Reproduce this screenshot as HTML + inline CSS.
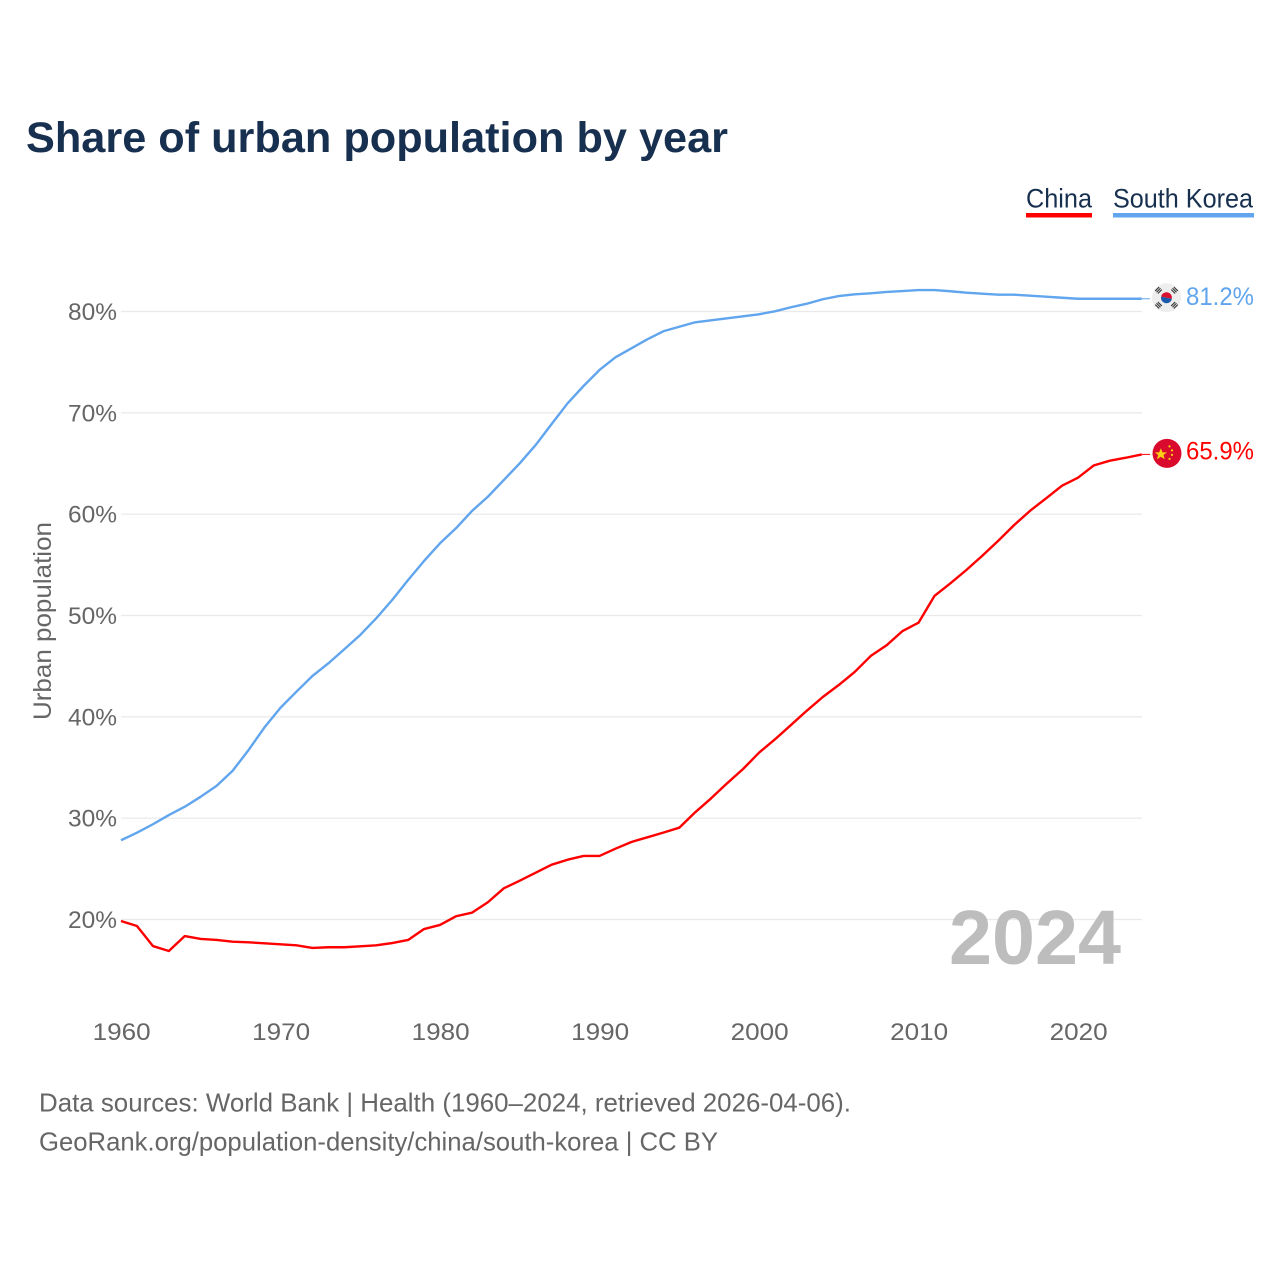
<!DOCTYPE html>
<html lang="en">
<head>
<meta charset="utf-8">
<title>Share of urban population by year</title>
<style>
html,body{margin:0;padding:0;background:#fff;width:1280px;height:1280px;overflow:hidden}
svg{display:block}
text{font-family:"Liberation Sans",sans-serif}
</style>
</head>
<body>
<svg id="chart" xmlns="http://www.w3.org/2000/svg" width="1280" height="1280" viewBox="0 0 1280 1280">
  <rect width="1280" height="1280" fill="#fff"/>
  <text x="26" y="152" font-size="43" font-weight="700" fill="#18304f" textLength="702" lengthAdjust="spacingAndGlyphs">Share of urban population by year</text>
  <g>
    <g>
      <text x="1026" y="207.5" font-size="27" fill="#18304f" textLength="66" lengthAdjust="spacingAndGlyphs">China</text>
      <rect x="1026" y="213" width="66" height="4.5" fill="#ff0000"/>
    </g>
    <g>
      <text x="1113" y="207.5" font-size="27" fill="#18304f" textLength="140" lengthAdjust="spacingAndGlyphs">South Korea</text>
      <rect x="1113" y="213" width="141" height="4.5" fill="#60a5ed"/>
    </g>
  </g>
  <g id="grid"></g>
  <g id="yticks"></g>
  <g id="xticks"></g>
  <text transform="translate(51,720) rotate(-90)" font-size="25" fill="#666" textLength="198" lengthAdjust="spacingAndGlyphs">Urban population</text>
  <text id="year-watermark" x="1121" y="964" text-anchor="end" font-size="77" font-weight="700" fill="#bdbdbd" textLength="172" lengthAdjust="spacingAndGlyphs"></text>
  <g id="series"></g>
  <g id="endpoints"></g>
  <text x="39" y="1111.5" font-size="26" fill="#666" textLength="812" lengthAdjust="spacingAndGlyphs">Data sources: World Bank | Health (1960–2024, retrieved 2026-04-06).</text>
  <text x="39" y="1150.5" font-size="26" fill="#666" textLength="679" lengthAdjust="spacingAndGlyphs">GeoRank.org/population-density/china/south-korea | CC BY</text>
</svg>
<script>
const startYear = 1960;
const chinaValues = [
19.85,19.36,17.38,16.89,18.37,18.08,17.98,17.81,17.75,17.65,
17.55,17.45,17.19,17.26,17.26,17.35,17.45,17.68,17.98,19.06,
19.46,20.32,20.67,21.70,23.08,23.83,24.62,25.41,25.90,26.27,
26.27,26.99,27.65,28.11,28.57,29.06,30.58,31.96,33.44,34.85,
36.46,37.78,39.19,40.61,41.96,43.14,44.43,46.00,47.06,48.47,
49.29,51.93,53.18,54.49,55.90,57.38,58.93,60.34,61.57,62.81,
63.60,64.82,65.28,65.57,65.90];
const koreaValues = [
27.82,28.57,29.40,30.31,31.13,32.12,33.20,34.68,36.73,38.97,
40.90,42.48,44.03,45.28,46.67,48.08,49.72,51.53,53.50,55.38,
57.13,58.61,60.31,61.72,63.37,65.02,66.83,68.90,70.94,72.65,
74.23,75.48,76.37,77.26,78.05,78.50,78.94,79.13,79.33,79.53,
79.73,80.02,80.42,80.77,81.21,81.53,81.70,81.80,81.93,82.02,
82.12,82.12,82.00,81.86,81.76,81.66,81.66,81.56,81.46,81.36,
81.26,81.26,81.26,81.26,81.26];
const yTickValues = [20,30,40,50,60,70,80];
const xTickValues = [1960,1970,1980,1990,2000,2010,2020];

const NS = 'http://www.w3.org/2000/svg';
const xScale = function (year) { return 121 + (year - 1960) * 15.95; };
const yScale = function (v) { return 919.5 - (v - 20) * 10.133; };
function make(tag, parent, attrs) {
  const el = document.createElementNS(NS, tag);
  for (const k in attrs) el.setAttribute(k, attrs[k]);
  parent.appendChild(el);
  return el;
}
const grid = document.getElementById('grid');
const yticks = document.getElementById('yticks');
const xticks = document.getElementById('xticks');
const series = document.getElementById('series');
const endpoints = document.getElementById('endpoints');

yTickValues.forEach(function (v) {
  const line = make('line', grid, {x1: 121, x2: 1142, y1: yScale(v), y2: yScale(v), stroke: '#e9e9e9', 'stroke-width': 1.2});
  
  
  const t = make('text', yticks, {x: 117, y: yScale(v) + 8.5, 'text-anchor': 'end', 'font-size': 24, fill: '#666', textLength: 49, lengthAdjust: 'spacingAndGlyphs'});
  t.textContent = v + '%';
  
  
});
xTickValues.forEach(function (yr) {
  const t = make('text', xticks, {x: xScale(yr) + 0.7, y: 1040, 'text-anchor': 'middle', 'font-size': 24, fill: '#666', textLength: 58, lengthAdjust: 'spacingAndGlyphs'});
  t.textContent = yr;
  
  
});

function pathFor(vals) {
  return vals.map(function (v, i) {
    return (i ? 'L' : 'M') + xScale(startYear + i).toFixed(2) + ' ' + yScale(v).toFixed(2);
  }).join(' ');
}
const koreaLine = make('path', series, {d: pathFor(koreaValues), fill: 'none', stroke: '#60a5ed', 'stroke-width': 2.4, 'stroke-linejoin': 'round'});


const chinaLine = make('path', series, {d: pathFor(chinaValues), fill: 'none', stroke: '#ff0000', 'stroke-width': 2.4, 'stroke-linejoin': 'round'});



const lastYear = startYear + chinaValues.length - 1;
document.getElementById('year-watermark').textContent = lastYear;

/* South Korea end marker */
const krY = yScale(koreaValues[koreaValues.length - 1]);
const krG = make('g', endpoints, {transform: 'translate(0,' + krY + ')'});


make('line', krG, {x1: 1142, x2: 1150, y1: 0, y2: 0, stroke: '#60a5ed', 'stroke-width': 1});
const krFlag = make('g', krG, {transform: 'translate(1166.5,-1)'});


make('circle', krFlag, {cx: 0, cy: 0, r: 14.5, fill: '#eeeeee'});
make('path', krFlag, {d: 'M-5.5 0A5.5 5.5 0 0 1 5.5 0Z', fill: '#d8112f', transform: 'rotate(12)'});
make('path', krFlag, {d: 'M-5.5 0A5.5 5.5 0 0 0 5.5 0Z', fill: '#1a5cab', transform: 'rotate(12)'});
[[-8, -7.5, -45], [8, -7.5, 45], [-8, 7.5, 45], [8, 7.5, -45]].forEach(function (b) {
  const bars = make('g', krFlag, {transform: 'translate(' + b[0] + ',' + b[1] + ') rotate(' + b[2] + ')'});
  make('rect', bars, {x: -2.8, y: -2.4, width: 5.6, height: 1.1, fill: '#333'});
  make('rect', bars, {x: -2.8, y: -0.55, width: 5.6, height: 1.1, fill: '#333'});
  make('rect', bars, {x: -2.8, y: 1.3, width: 5.6, height: 1.1, fill: '#333'});
});
const krLabel = make('text', krG, {x: 1186, y: 6, 'font-size': 25, fill: '#60a5ed', textLength: 68, lengthAdjust: 'spacingAndGlyphs'});
krLabel.textContent = Math.floor(koreaValues[koreaValues.length - 1] * 10) / 10 + '%';



/* China end marker */
const cnY = yScale(chinaValues[chinaValues.length - 1]);
const cnG = make('g', endpoints, {transform: 'translate(0,' + cnY + ')'});


make('line', cnG, {x1: 1142, x2: 1150, y1: 0, y2: 0, stroke: '#ff0000', 'stroke-width': 1});
const cnFlag = make('g', cnG, {transform: 'translate(1167,-1)'});


make('circle', cnFlag, {cx: 0, cy: 0, r: 14.5, fill: '#da0a2c'});
make('polygon', cnFlag, {points: '-7,-6 -5.2,-1.6 -0.6,-1.6 -4.2,1.2 -2.9,5.6 -7,3 -11.1,5.6 -9.8,1.2 -13.4,-1.6 -8.8,-1.6', fill: '#fcd116', transform: 'translate(0.5,0.5) scale(0.95)'});
[[2.5, -7], [5, -3], [5, 1.5], [2.5, 5.5]].forEach(function (s) {
  make('circle', cnFlag, {cx: s[0], cy: s[1], r: 1.1, fill: '#fcd116'});
});
const cnLabel = make('text', cnG, {x: 1186, y: 5, 'font-size': 25, fill: '#ff0000', textLength: 68, lengthAdjust: 'spacingAndGlyphs'});
cnLabel.textContent = Math.floor(chinaValues[chinaValues.length - 1] * 10 + 1e-6) / 10 + '%';


</script>
</body>
</html>
